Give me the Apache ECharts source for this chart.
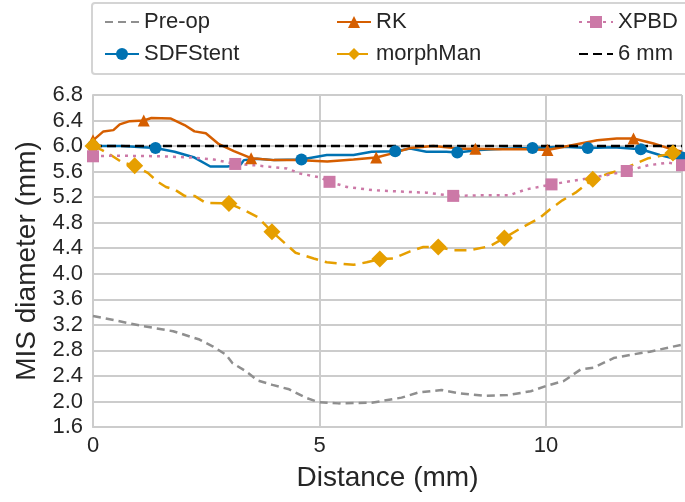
<!DOCTYPE html>
<html>
<head>
<meta charset="utf-8">
<script src="https://cdn.jsdelivr.net/npm/echarts@6/dist/echarts.min.js"></script>
<style>
html, body { margin: 0; padding: 0; background: #fff; }
#main { width: 685px; height: 502px; }
</style>
</head>
<body>
<div id="main"></div>
<script>
// distance along vessel (mm) / MIS diameter (mm)
var preopX = [0, 1.11, 1.77, 2.35, 2.65, 2.94, 3.08, 3.38, 3.63, 3.96, 4.33, 4.69, 4.98, 5.42, 6.15, 6.81, 7.18, 7.69, 8.05, 8.64, 9.15, 9.66, 10.03, 10.39, 10.76, 11.05, 11.49, 11.86, 12.29, 13];
var preopY = [3.34, 3.18, 3.10, 2.97, 2.86, 2.73, 2.60, 2.47, 2.33, 2.26, 2.19, 2.06, 1.99, 1.97, 1.98, 2.06, 2.14, 2.18, 2.13, 2.09, 2.10, 2.16, 2.25, 2.32, 2.50, 2.53, 2.68, 2.73, 2.78, 2.89];

var sdfX = [0, 0.63, 1.38, 1.80, 2.24, 2.59, 2.97, 3.26, 3.33, 3.62, 4.0, 4.6, 5.16, 5.75, 6.15, 6.67, 7.0, 7.36, 7.8, 8.04, 8.53, 9.04, 9.70, 10.39, 10.92, 11.49, 12.09, 12.51, 12.8, 13];
var sdfY = [6.0, 6.0, 5.97, 5.91, 5.82, 5.68, 5.68, 5.71, 5.78, 5.80, 5.78, 5.79, 5.86, 5.86, 5.91, 5.92, 5.96, 5.91, 5.91, 5.90, 5.94, 5.96, 5.97, 5.99, 5.97, 5.98, 5.95, 5.86, 5.81, 5.82];
var sdfMarks = [0, 2, 11, 15, 19, 22, 24, 26, 29];

var rkX = [0, 0.23, 0.45, 0.59, 0.81, 1.12, 1.29, 1.72, 2.02, 2.24, 2.49, 2.78, 3.11, 3.49, 3.99, 4.5, 5.17, 5.75, 6.25, 6.63, 7.0, 7.51, 8.09, 8.44, 8.97, 9.66, 10.03, 10.54, 11.13, 11.56, 11.93, 12.37, 12.73, 13];
var rkY = [6.09, 6.23, 6.25, 6.34, 6.39, 6.40, 6.44, 6.43, 6.33, 6.23, 6.20, 6.03, 5.92, 5.81, 5.78, 5.78, 5.76, 5.79, 5.82, 5.89, 5.97, 6.0, 5.96, 5.96, 5.95, 5.95, 5.94, 6.01, 6.09, 6.12, 6.12, 6.04, 5.96, 5.91];
var rkMarks = [0, 5, 13, 18, 23, 26, 30];

var morphX = [0, 0.19, 0.37, 0.63, 0.92, 1.21, 1.43, 1.61, 1.80, 2.02, 2.24, 2.49, 3.0, 3.33, 3.63, 3.95, 4.28, 4.47, 4.87, 5.16, 5.75, 6.04, 6.33, 6.63, 7.0, 7.29, 7.62, 7.95, 8.31, 8.75, 9.08, 9.48, 9.85, 10.07, 10.36, 10.65, 11.03, 11.38, 11.67, 11.96, 12.26, 12.48, 12.8, 13];
var morphY = [6.0, 5.94, 5.87, 5.75, 5.69, 5.58, 5.44, 5.36, 5.32, 5.22, 5.22, 5.11, 5.10, 5.0, 4.89, 4.66, 4.45, 4.33, 4.24, 4.18, 4.14, 4.18, 4.23, 4.24, 4.35, 4.42, 4.42, 4.37, 4.37, 4.43, 4.56, 4.73, 4.87, 5.0, 5.15, 5.27, 5.48, 5.57, 5.63, 5.72, 5.81, 5.84, 5.89, 5.88];
var morphMarks = [0, 4, 12, 15, 22, 26, 30, 36, 42];

var xpbdX = [0, 0.5, 1.5, 2.2, 2.67, 3.14, 3.55, 4.28, 4.57, 5.01, 5.22, 5.6, 6.18, 6.41, 7.36, 7.95, 8.6, 9.19, 9.55, 9.85, 10.12, 10.8, 11.38, 11.78, 12.26, 12.7, 13];
var xpbdY = [5.84, 5.85, 5.84, 5.82, 5.79, 5.72, 5.70, 5.65, 5.57, 5.51, 5.44, 5.36, 5.31, 5.30, 5.27, 5.22, 5.23, 5.23, 5.32, 5.36, 5.40, 5.48, 5.55, 5.61, 5.70, 5.74, 5.70];
var xpbdMarks = [0, 5, 10, 15, 20, 23, 26];

var refX = [0, 13];
var refY = [6, 6];

var FONT = 'Liberation Sans, Arial, sans-serif';
var TXT = '#262626';

function pts(xs, ys, marks) {
    return xs.map(function (x, i) {
        var d = { value: [x, ys[i]] };
        if (marks && marks.indexOf(i) < 0) d.symbol = 'none';
        return d;
    });
}

function line(name, xs, ys, marks, color, type, symbol, size) {
    return {
        name: name,
        type: 'line',
        data: pts(xs, ys, marks),
        symbol: symbol || 'none',
        symbolSize: size || 0,
        showSymbol: !!symbol,
        color: color,
        lineStyle: { color: color, width: 2.5, type: type, cap: 'butt' },
        itemStyle: { color: color },
        animation: false,
        emphasis: { disabled: true }
    };
}

// legend entry for a plain line: hide the default circle
function plain(name) {
    return { name: name, itemStyle: { opacity: 0 } };
}

var chart = echarts.init(document.getElementById('main'));

var legendBase = {
    orient: 'vertical',
    top: 9,
    padding: 0,
    itemGap: 6,
    itemWidth: 34,
    itemHeight: 15,
    textStyle: { fontFamily: FONT, fontSize: 22, color: TXT, lineHeight: 26 },
    selectedMode: false
};

chart.setOption({
    backgroundColor: '#fff',
    animation: false,
    graphic: [{
        type: 'rect',
        shape: { x: 92, y: 3, width: 610, height: 71, r: 3 },
        style: { fill: '#fff', stroke: '#d4d4d4', lineWidth: 2 },
        z: -1
    }],
    legend: [
        Object.assign({}, legendBase, { left: 104, data: [plain('Pre-op'), 'SDFStent'] }),
        Object.assign({}, legendBase, { left: 336, data: ['RK', 'morphMan'] }),
        Object.assign({}, legendBase, { left: 578, data: ['XPBD', plain('6 mm')] })
    ],
    grid: { left: 93, top: 95, right: 0, bottom: 75 },
    xAxis: {
        type: 'value',
        min: 0,
        max: 13,
        interval: 5,
        name: 'Distance (mm)',
        nameLocation: 'middle',
        nameGap: 37,
        nameTextStyle: { fontFamily: FONT, fontSize: 28, color: TXT },
        axisLine: { show: true, lineStyle: { color: '#cccccc', width: 2 } },
        axisTick: { show: false },
        axisLabel: {
            fontFamily: FONT, fontSize: 22, color: TXT, margin: 8,
            formatter: function (v) { return v % 5 === 0 ? String(v) : ''; }
        },
        splitLine: { show: true, lineStyle: { color: '#cccccc', width: 2 } }
    },
    yAxis: {
        type: 'value',
        min: 1.6,
        max: 6.8,
        interval: 0.4,
        name: 'MIS diameter (mm)',
        nameLocation: 'middle',
        nameGap: 52,
        nameTextStyle: { fontFamily: FONT, fontSize: 28, color: TXT },
        axisLine: { show: true, lineStyle: { color: '#cccccc', width: 2 } },
        axisTick: { show: false },
        axisLabel: {
            fontFamily: FONT, fontSize: 22, color: TXT, margin: 10,
            formatter: function (v) { return v.toFixed(1); }
        },
        splitLine: { show: true, lineStyle: { color: '#cccccc', width: 2 } }
    },
    series: [
        line('Pre-op', preopX, preopY, null, '#8f8f8f', [8, 5]),
        line('SDFStent', sdfX, sdfY, sdfMarks, '#0072b2', 'solid', 'circle', 12),
        line('RK', rkX, rkY, rkMarks, '#d55e00', 'solid', 'triangle', 12),
        line('morphMan', morphX, morphY, morphMarks, '#e69f00', [12, 7], 'diamond', 17),
        line('XPBD', xpbdX, xpbdY, xpbdMarks, '#cc79a7', [3, 5], 'rect', 12),
        line('6 mm', refX, refY, null, '#000000', [9, 5])
    ]
});
</script>
</body>
</html>
